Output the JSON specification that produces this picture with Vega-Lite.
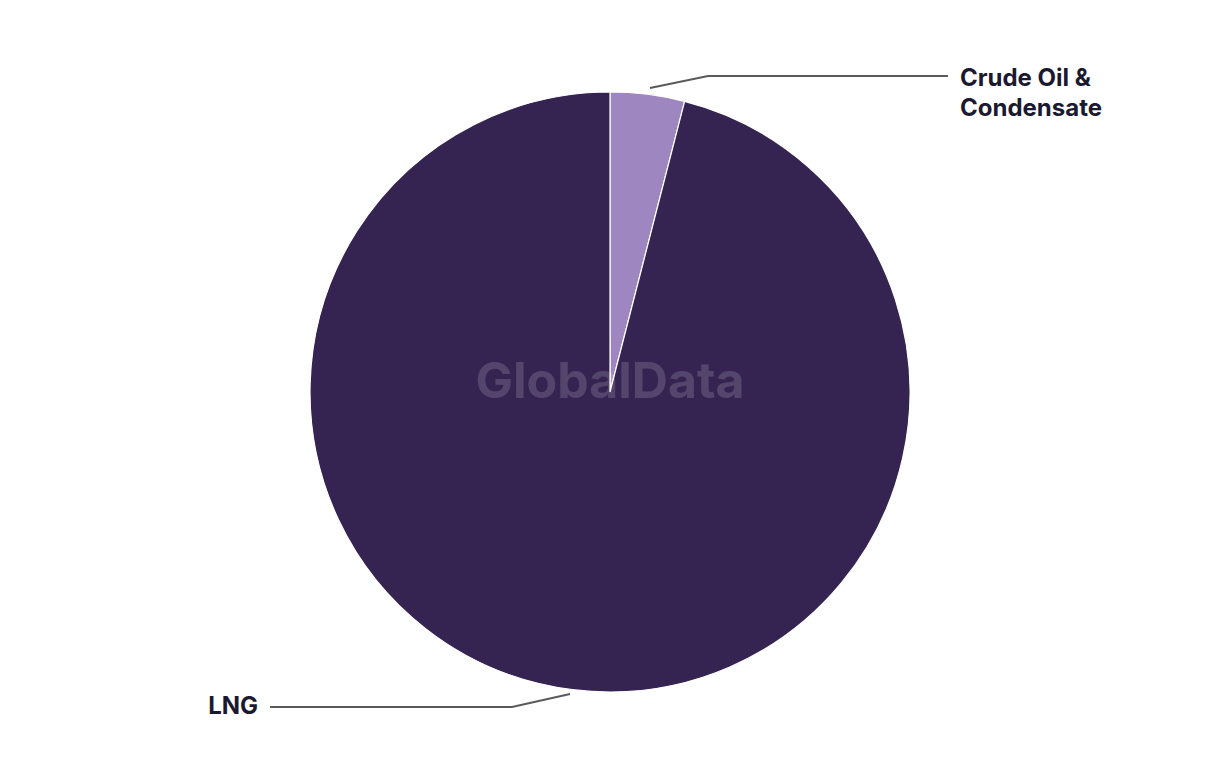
{
  "$schema": "https://vega.github.io/schema/vega-lite/v6.json",
  "width": 1220,
  "height": 764,
  "padding": {"left": 0, "top": 10, "right": 0, "bottom": 0},
  "autosize": {"type": "none"},
  "background": "white",
  "config": {"view": {"stroke": null}},
  "datasets": {
    "slices": [
      {"category": "Crude Oil & Condensate", "share": 4.0, "order": 1},
      {"category": "LNG", "share": 96.0, "order": 2}
    ],
    "leaders": [
      {"category": "Crude Oil & Condensate", "step": 1, "x": 0.1333, "y": 1.0133},
      {"category": "Crude Oil & Condensate", "step": 2, "x": 0.3267, "y": 1.0533},
      {"category": "Crude Oil & Condensate", "step": 3, "x": 1.1267, "y": 1.0533},
      {"category": "LNG", "step": 1, "x": -0.1333, "y": -1.0067},
      {"category": "LNG", "step": 2, "x": -0.3267, "y": -1.05},
      {"category": "LNG", "step": 3, "x": -1.1333, "y": -1.05}
    ],
    "rightLabels": [
      {"text": "Crude Oil &", "x": 1.1667, "y": 1.043},
      {"text": "Condensate", "x": 1.1667, "y": 0.943}
    ],
    "leftLabels": [
      {"text": "LNG", "x": -1.1733, "y": -1.05}
    ],
    "watermark": [{"text": "GlobalData", "x": 0.0, "y": 0.03}]
  },
  "layer": [
    {
      "data": {"name": "slices"},
      "mark": {"type": "arc", "outerRadius": 300, "stroke": "white", "strokeWidth": 1.2},
      "encoding": {
        "theta": {"field": "share", "type": "quantitative", "stack": true},
        "order": {"field": "order", "type": "quantitative"},
        "color": {
          "field": "category",
          "type": "nominal",
          "scale": {"domain": ["Crude Oil & Condensate", "LNG"], "range": ["#9e87c0", "#352452"]},
          "legend": null
        }
      }
    },
    {
      "data": {"name": "watermark"},
      "mark": {"type": "text", "font": "Inter", "fontWeight": "bold", "fontSize": 50, "color": "white", "opacity": 0.15, "align": "center", "baseline": "middle"},
      "encoding": {
        "x": {"field": "x", "type": "quantitative", "scale": {"domain": [-2.0333, 2.0333], "nice": false, "zero": false}, "axis": null},
        "y": {"field": "y", "type": "quantitative", "scale": {"domain": [-1.2733, 1.2733], "nice": false, "zero": false}, "axis": null},
        "text": {"field": "text"}
      }
    },
    {
      "data": {"name": "leaders"},
      "mark": {"type": "line", "color": "#5a5a5a", "strokeWidth": 2},
      "encoding": {
        "x": {"field": "x", "type": "quantitative", "scale": {"domain": [-2.0333, 2.0333], "nice": false, "zero": false}, "axis": null},
        "y": {"field": "y", "type": "quantitative", "scale": {"domain": [-1.2733, 1.2733], "nice": false, "zero": false}, "axis": null},
        "detail": {"field": "category"},
        "order": {"field": "step"}
      }
    },
    {
      "data": {"name": "rightLabels"},
      "mark": {"type": "text", "font": "Inter", "fontWeight": "bold", "fontSize": 24, "color": "#1b1930", "baseline": "middle", "align": "left"},
      "encoding": {
        "x": {"field": "x", "type": "quantitative", "scale": {"domain": [-2.0333, 2.0333], "nice": false, "zero": false}, "axis": null},
        "y": {"field": "y", "type": "quantitative", "scale": {"domain": [-1.2733, 1.2733], "nice": false, "zero": false}, "axis": null},
        "text": {"field": "text"}
      }
    },
    {
      "data": {"name": "leftLabels"},
      "mark": {"type": "text", "font": "Inter", "fontWeight": "bold", "fontSize": 24, "color": "#1b1930", "baseline": "middle", "align": "right"},
      "encoding": {
        "x": {"field": "x", "type": "quantitative", "scale": {"domain": [-2.0333, 2.0333], "nice": false, "zero": false}, "axis": null},
        "y": {"field": "y", "type": "quantitative", "scale": {"domain": [-1.2733, 1.2733], "nice": false, "zero": false}, "axis": null},
        "text": {"field": "text"}
      }
    }
  ]
}
